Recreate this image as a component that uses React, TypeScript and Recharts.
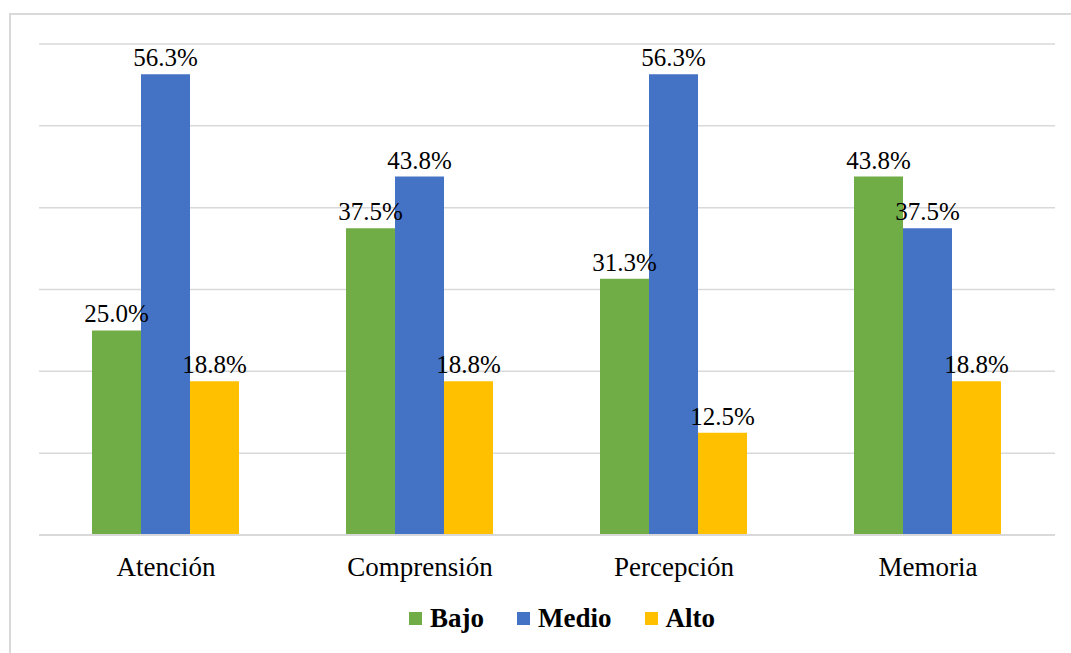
import React from "react";
import { BarChart, Bar, XAxis, YAxis, CartesianGrid, LabelList } from "recharts";

const categories = ["Atención", "Comprensión", "Percepción", "Memoria"];
const bajo = [25.0, 37.5, 31.3, 43.8];
const medio = [56.3, 43.8, 56.3, 37.5];
const alto = [18.8, 18.8, 12.5, 18.8];
const yTicks = [0, 10, 20, 30, 40, 50, 60];

const series = [
  { key: "bajo", name: "Bajo", color: "#70ad47" },
  { key: "medio", name: "Medio", color: "#4472c4" },
  { key: "alto", name: "Alto", color: "#ffc000" },
];

const data = categories.map((c, i) => ({
  name: c,
  bajo: bajo[i],
  medio: medio[i],
  alto: alto[i],
}));

const font = "Liberation Serif, Times New Roman, Times, serif";
const fmt = (v: any) => `${Number(v).toFixed(1)}%`;

const renderTick = (props: any) => (
  <text
    x={props.x}
    y={props.y}
    dy="0.71em"
    textAnchor="middle"
    fill="#000"
    fontSize={27}
    fontFamily={font}
  >
    {props.payload.value}
  </text>
);

const renderLabel = (props: any) => (
  <text
    x={Number(props.x) + Number(props.width) / 2}
    y={Number(props.y) - 8}
    textAnchor="middle"
    fill="#000"
    fontSize={25}
    fontFamily={font}
  >
    {fmt(props.value)}
  </text>
);

export default function App() {
  return (
    <div
      style={{
        position: "absolute",
        left: 0,
        top: 0,
        width: 1071,
        height: 653,
        background: "#fff",
        overflow: "hidden",
        fontFamily: font,
      }}
    >
      <div
        style={{
          position: "absolute",
          left: 9,
          top: 13,
          width: 1080,
          height: 660,
          border: "2px solid #d9d9d9",
        }}
      />
      <BarChart
        width={1071}
        height={653}
        data={data}
        margin={{ top: 44, right: 16, bottom: 78, left: 39 }}
        barCategoryGap={53}
        barGap={0}
        style={{ position: "absolute", left: 0, top: 0, fontFamily: font }}
      >
        <CartesianGrid vertical={false} stroke="#d9d9d9" strokeWidth={1.5} />
        <YAxis hide domain={[0, 60]} ticks={yTicks} />
        <XAxis
          dataKey="name"
          height={40}
          tickLine={false}
          axisLine={{ stroke: "#d9d9d9", strokeWidth: 2 }}
          tickMargin={16}
          tick={renderTick}
        />
        {series.map((s) => (
          <Bar
            key={s.key}
            dataKey={s.key}
            name={s.name}
            fill={s.color}
            isAnimationActive={false}
          >
            <LabelList dataKey={s.key} content={renderLabel} />
          </Bar>
        ))}
      </BarChart>
      <div
        style={{
          position: "absolute",
          left: 409,
          top: 603,
          display: "flex",
          alignItems: "center",
          fontFamily: font,
          fontWeight: "bold",
          fontSize: 27,
          color: "#000",
        }}
      >
        {series.map((s, i) => (
          <div
            key={s.key}
            style={{
              display: "flex",
              alignItems: "center",
              marginRight: i < series.length - 1 ? 33 : 0,
            }}
          >
            <span
              style={{
                width: 13,
                height: 13,
                background: s.color,
                marginRight: 8,
                display: "inline-block",
              }}
            />
            <span>{s.name}</span>
          </div>
        ))}
      </div>
    </div>
  );
}
